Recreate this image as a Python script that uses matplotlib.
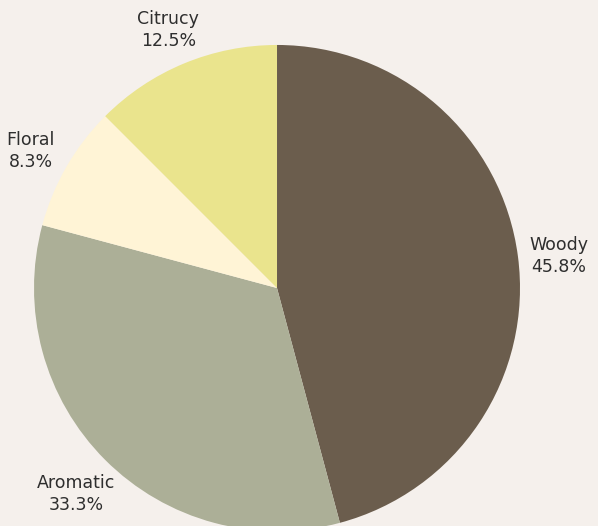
import matplotlib
matplotlib.use("Agg")
import matplotlib.pyplot as plt

categories = ["Woody", "Aromatic", "Floral", "Citrucy"]
counts = [11, 8, 2, 3]
colors = ["#6B5D4D", "#ACAF97", "#FFF4D6", "#EAE48D"]

BG = "#F5F0EC"

total = sum(counts)
labels = [f"{c}\n{v / total * 100:.1f}%" for c, v in zip(categories, counts)]

fig = plt.figure(figsize=(5.98, 5.26), dpi=100, facecolor=BG)
ax = fig.add_axes([0, 0, 1, 1])
ax.set_facecolor(BG)

wedges, texts = ax.pie(
    counts, labels=labels, colors=colors, startangle=90, counterclock=False,
    radius=1.0, labeldistance=1.17,
    wedgeprops=dict(linewidth=0),
    textprops=dict(fontsize=12.5, color="#2E2E2E", family=["DejaVu Sans"],
                   linespacing=1.3),
)
for t in texts:
    t.set_ha("center")
    t.set_va("center")
    x, y = t.get_position()
    t.set_position((x, y - 0.02))

ax.set_xlim(-1.14, 1.321)
ax.set_ylim(-0.979, 1.185)
ax.set_aspect("auto")
ax.axis("off")

fig.savefig("out.png", dpi=100, facecolor=BG)
